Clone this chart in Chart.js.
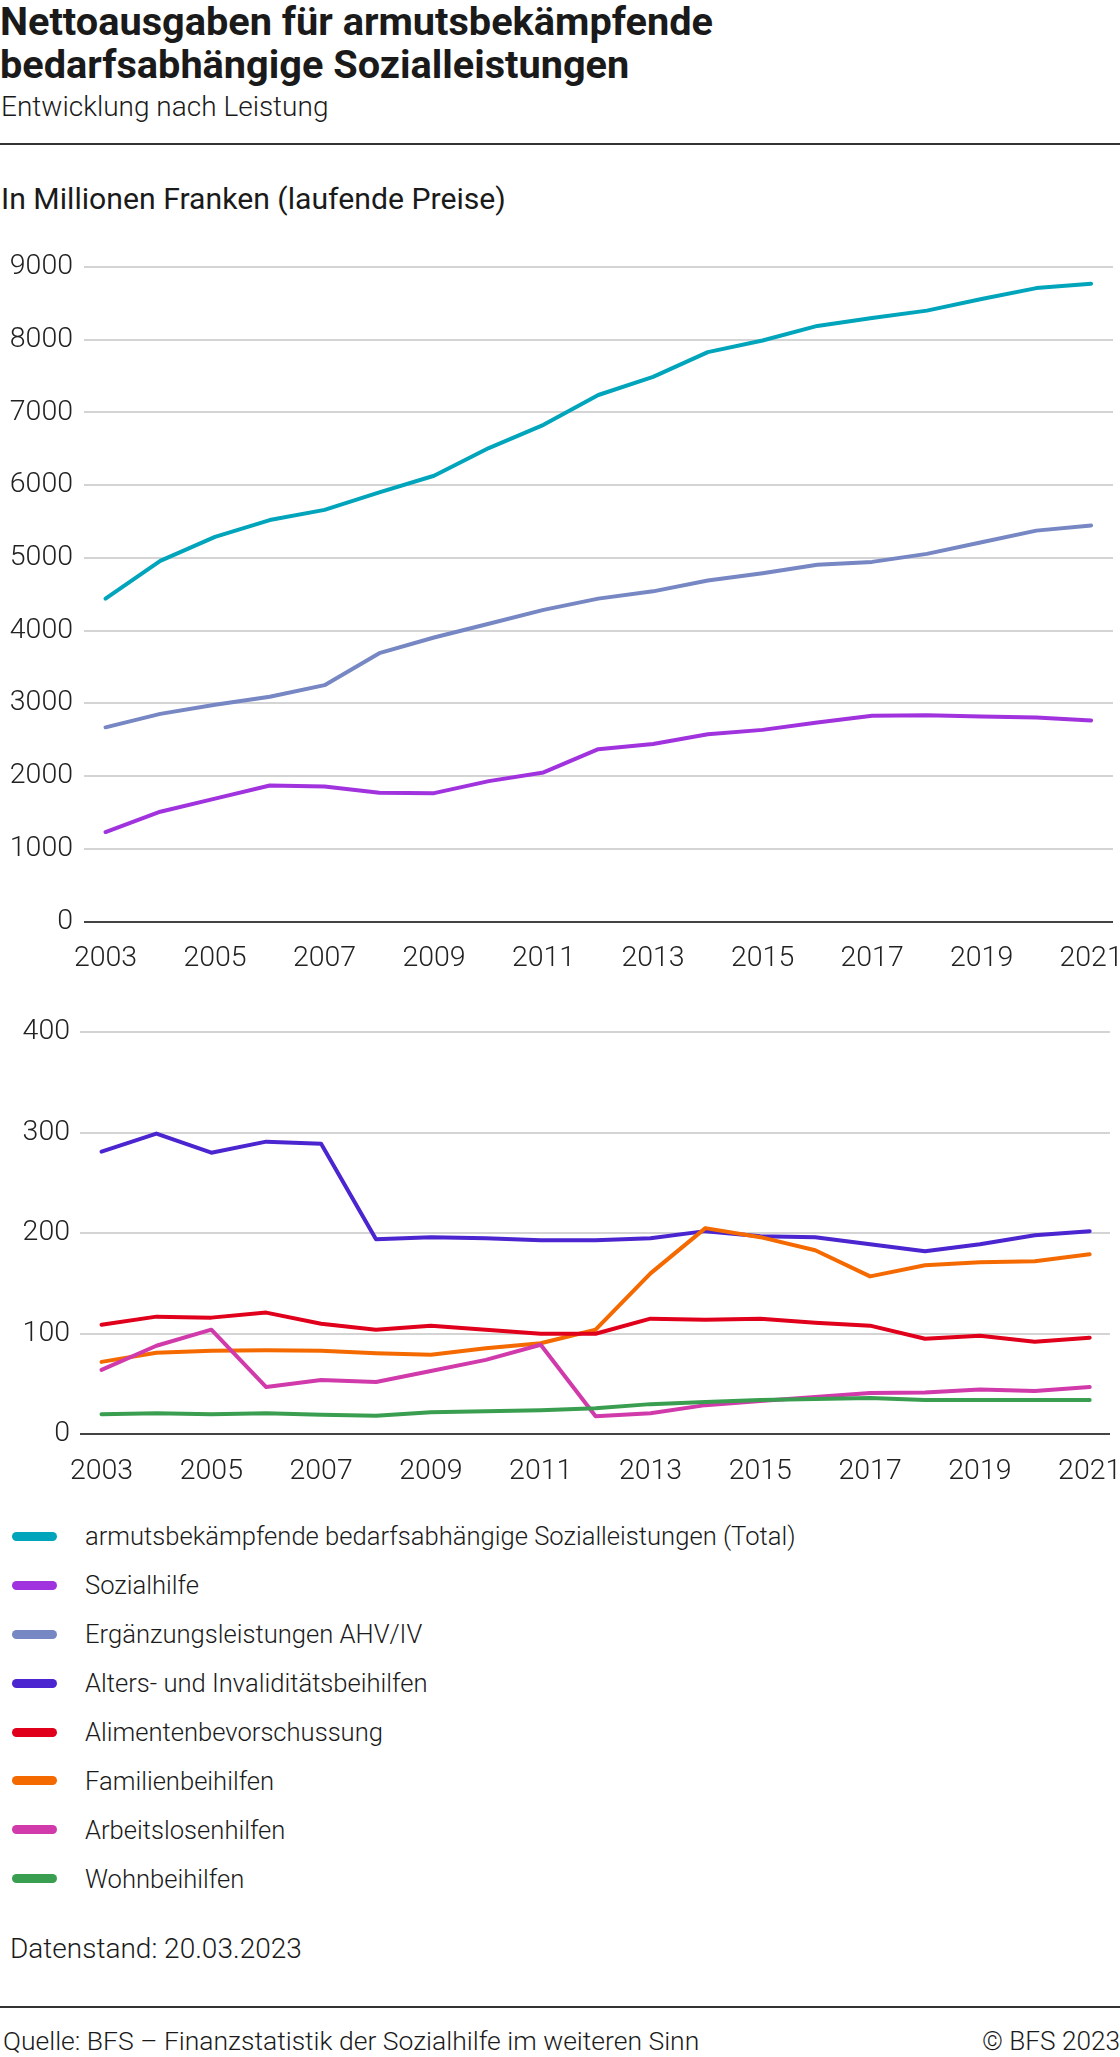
<!DOCTYPE html>
<html>
<head>
<meta charset="utf-8">
<script src="https://cdn.jsdelivr.net/npm/chart.js@4.4.1/dist/chart.umd.min.js"></script>
<style>
  body { margin: 0; background: #fff; font-family: Roboto, "Noto Sans", sans-serif; color: #1a1a1a; }
  #page { position: relative; width: 1120px; height: 2057px; overflow: hidden; background: #fff; }
  .abs { position: absolute; white-space: nowrap; }
  .rule { position: absolute; left: 0; width: 1120px; height: 2px; background: #333; }
  #title { left: 0; top: 0; font-size: 39.7px; line-height: 43px; font-weight: 700; }
  #subtitle { left: 1px; top: 91px; font-size: 28px; line-height: 32px; font-weight: 300; }
  #unit { left: 1px; top: 182px; font-size: 30.2px; line-height: 34px; font-weight: 400; }
  canvas { position: absolute; left: 0; }
  #legend { position: absolute; left: 0; top: 1512px; }
  .item { display: flex; align-items: center; height: 48.9px; }
  .sw { width: 45px; height: 9px; border-radius: 5px; margin-left: 12px; margin-right: 28px; }
  .lbl { font-size: 25.6px; font-weight: 300; line-height: 30px; white-space: nowrap; }
  #stand { left: 10px; top: 1933px; font-size: 28px; font-weight: 300; line-height: 32px; }
  #source { left: 3px; top: 2026px; font-size: 26.5px; font-weight: 300; line-height: 30px; }
  #copy { right: 0; top: 2026px; font-size: 26.2px; font-weight: 300; line-height: 30px; }
</style>
</head>
<body>
<div id="page">
  <div id="title" class="abs">Nettoausgaben für armutsbekämpfende<br>bedarfsabhängige Sozialleistungen</div>
  <div id="subtitle" class="abs">Entwicklung nach Leistung</div>
  <div class="rule" style="top:143px"></div>
  <div id="unit" class="abs">In Millionen Franken (laufende Preise)</div>
  <canvas id="topChart" width="1120" height="760" style="top:230px"></canvas>
  <canvas id="bottomChart" width="1120" height="500" style="top:1000px"></canvas>
  <div id="legend"></div>
  <div id="stand" class="abs">Datenstand: 20.03.2023</div>
  <div class="rule" style="top:2006px"></div>
  <div id="source" class="abs">Quelle: BFS – Finanzstatistik der Sozialhilfe im weiteren Sinn</div>
  <div id="copy" class="abs">© BFS 2023</div>
</div>
<script>
const years = [2003, 2004, 2005, 2006, 2007, 2008, 2009, 2010, 2011, 2012, 2013, 2014, 2015, 2016, 2017, 2018, 2019, 2020, 2021];
const tickYears = [2003, 2005, 2007, 2009, 2011, 2013, 2015, 2017, 2019, 2021];

// top panel, Mio. CHF
const total = [4440, 4960, 5290, 5520, 5660, 5900, 6130, 6510, 6830, 7240, 7490, 7830, 7990, 8190, 8300, 8400, 8560, 8710, 8770];
const sozialhilfe = [1230, 1510, 1690, 1870, 1855, 1770, 1765, 1930, 2050, 2370, 2440, 2575, 2635, 2735, 2830, 2835, 2820, 2805, 2765];
const ergaenzung = [2670, 2855, 2980, 3090, 3250, 3690, 3905, 4095, 4285, 4440, 4540, 4690, 4790, 4905, 4945, 5055, 5215, 5375, 5445];

// bottom panel, Mio. CHF
const altersInval = [281, 299, 280, 291, 289, 194, 196, 195, 193, 193, 195, 202, 197, 196, 189, 182, 189, 198, 202];
const alimente = [109, 117, 116, 121, 110, 104, 108, 104, 100, 100, 115, 114, 115, 111, 108, 95, 98, 92, 96];
const familie = [72, 81, 83, 83.5, 83, 80.5, 79, 85.5, 90.5, 104, 160, 205, 196, 183, 157, 168, 171, 172, 179];
const arbeitslos = [64, 88, 104, 47, 54, 52, 63, 74, 89, 18, 21, 29, 33, 37, 41, 41.5, 44.5, 43, 47];
const wohn = [20, 21, 20, 21, 19.5, 18.5, 22, 23, 24, 26, 30, 32, 34, 35, 36, 34, 34, 34, 34];

const C = {
  total: "#00A5BC",
  sozial: "#A033DE",
  ergaenz: "#7687C4",
  alters: "#4B25D0",
  alim: "#E0001B",
  fam: "#F46A00",
  arbeit: "#D03AAA",
  wohn: "#3A9E50",
  grid: "#D4D4D4",
  zero: "#444444",
  ink: "#222222"
};

const legendItems = [
  ["armutsbekämpfende bedarfsabhängige Sozialleistungen (Total)", C.total],
  ["Sozialhilfe", C.sozial],
  ["Ergänzungsleistungen AHV/IV", C.ergaenz],
  ["Alters- und Invaliditätsbeihilfen", C.alters],
  ["Alimentenbevorschussung", C.alim],
  ["Familienbeihilfen", C.fam],
  ["Arbeitslosenhilfen", C.arbeit],
  ["Wohnbeihilfen", C.wohn]
];

const legendBox = document.getElementById("legend");
legendItems.forEach(([name, color]) => {
  const row = document.createElement("div");
  row.className = "item";
  row.innerHTML = `<div class="sw" style="background:${color}"></div><div class="lbl">${name}</div>`;
  legendBox.appendChild(row);
});

function series(values, color) {
  return {
    data: years.map((y, i) => ({ x: y, y: values[i] })),
    borderColor: color,
    backgroundColor: color,
    borderWidth: 4,
    pointRadius: 0,
    tension: 0,
    borderCapStyle: "round",
    borderJoinStyle: "round"
  };
}

const tickFont = { family: "Roboto", size: 28.5, weight: 300 };

function makeChart(id, datasets, opts) {
  return new Chart(document.getElementById(id), {
    type: "line",
    data: { datasets },
    options: {
      responsive: false,
      animation: false,
      layout: { padding: { top: opts.padTop, right: opts.padRight, left: 0, bottom: 0 } },
      plugins: { legend: { display: false }, tooltip: { enabled: false } },
      scales: {
        x: {
          type: "linear",
          min: opts.xMin,
          max: opts.xMax,
          grid: { display: false },
          border: { display: false },
          afterBuildTicks: s => { s.ticks = tickYears.map(v => ({ value: v })); },
          afterFit: s => { s.height = opts.xHeight; s.paddingLeft = 0; s.paddingRight = 0; },
          ticks: { color: C.ink, font: tickFont, padding: opts.xPad, maxRotation: 0, autoSkip: false, callback: v => String(v) }
        },
        y: {
          min: 0,
          max: opts.yMax,
          grid: {
            drawTicks: false,
            color: c => c.tick.value === 0 ? C.zero : C.grid,
            lineWidth: 2
          },
          border: { display: false },
          afterFit: s => { s.width = opts.yWidth; },
          ticks: { stepSize: opts.yStep, color: C.ink, font: tickFont, padding: opts.yPad, callback: v => String(v) }
        }
      }
    }
  });
}

makeChart("topChart", [
  series(ergaenzung, C.ergaenz),
  series(sozialhilfe, C.sozial),
  series(total, C.total)
], { padTop: 37, padRight: 7, xMin: 2002.607, xMax: 2021.4, xHeight: 68.5, xPad: 12, yMax: 9000, yStep: 1000, yWidth: 84, yPad: 11 });

makeChart("bottomChart", [
  series(wohn, C.wohn),
  series(arbeitslos, C.arbeit),
  series(alimente, C.alim),
  series(familie, C.fam),
  series(altersInval, C.alters)
], { padTop: 32, padRight: 10, xMin: 2002.608, xMax: 2021.37, xHeight: 65.7, xPad: 12, yMax: 400, yStep: 100, yWidth: 80, yPad: 10 });
</script>
</body>
</html>
